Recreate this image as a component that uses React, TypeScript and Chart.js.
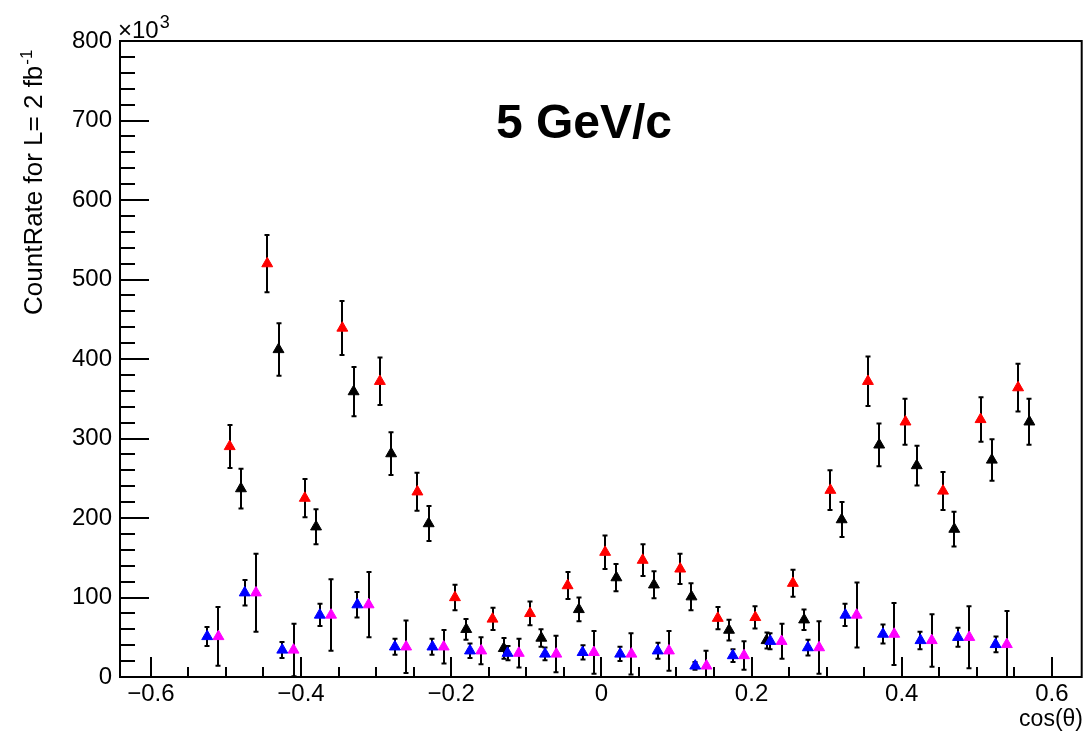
import React, { useEffect, useRef } from "react";
import { Chart, registerables } from "chart.js";

Chart.register(...registerables);

const FONT = "'Liberation Sans', Arial, Helvetica, sans-serif";

// cos(theta) positions of each series
const redX = [-0.495, -0.445, -0.395, -0.345, -0.295, -0.245, -0.195, -0.145, -0.095, -0.045, 0.005, 0.055, 0.105, 0.155, 0.205, 0.255, 0.305, 0.355, 0.405, 0.455, 0.505, 0.555];
const blackX = [-0.48, -0.43, -0.38, -0.33, -0.28, -0.23, -0.18, -0.13, -0.08, -0.03, 0.02, 0.07, 0.12, 0.17, 0.22, 0.27, 0.32, 0.37, 0.42, 0.47, 0.52, 0.57];
const blueX = [-0.525, -0.475, -0.425, -0.375, -0.325, -0.275, -0.225, -0.175, -0.125, -0.075, -0.025, 0.025, 0.075, 0.125, 0.175, 0.225, 0.275, 0.325, 0.375, 0.425, 0.475, 0.525];
const magentaX = [-0.51, -0.46, -0.41, -0.36, -0.31, -0.26, -0.21, -0.16, -0.11, -0.06, -0.01, 0.04, 0.09, 0.14, 0.19, 0.24, 0.29, 0.34, 0.39, 0.44, 0.49, 0.54];

// count rates (x10^3) and their errors
const redY = [290, 520, 225, 439, 372, 233, 100, 73, 80, 115, 157, 147, 136, 74, 75, 118, 235, 372, 321, 234, 324, 364];
const redErr = [27, 36, 24, 34, 30, 24, 16, 14, 15, 17, 21, 20, 19, 14, 14, 17, 25, 31, 29, 24, 28, 30];
const blackY = [237, 412, 189, 359, 281, 193, 60, 36, 49, 85, 125, 116, 101, 59, 46, 72, 198, 292, 266, 186, 273, 321];
const blackErr = [25, 33, 22, 31, 27, 22, 13, 13, 11, 15, 17, 17, 17, 13, 10, 13, 22, 27, 25, 22, 26, 29];
const blueY = [51, 106, 34, 78, 91, 38, 38, 33, 30, 29, 31, 29, 33, 14, 27, 45, 37, 78, 54, 46, 50, 41];
const blueErr = [12, 16, 10, 14, 16, 10, 10, 9, 9, 8, 9, 9, 10, 5, 8, 10, 10, 14, 12, 11, 12, 10];
const magentaY = [51, 106, 34, 78, 91, 38, 38, 33, 30, 29, 31, 29, 33, 14, 27, 45, 37, 78, 54, 46, 50, 41];
const magentaErr = [37, 49, 33, 45, 41, 33, 21, 17, 18, 23, 27, 26, 25, 19, 18, 22, 33, 41, 39, 33, 39, 42];

// axis ticks
const xTicks = [-0.6, -0.4, -0.2, 0, 0.2, 0.4, 0.6];
const yTicks = [0, 100, 200, 300, 400, 500, 600, 700, 800];
const X_MIN = -0.6411;
const X_MAX = 0.6397;
const Y_MIN = 0;
const Y_MAX = 800;

const TITLE = "5 GeV/c";
const X_TITLE = "cos(\u03b8)";
const Y_TITLE = "CountRate for L= 2 fb";
const Y_TITLE_SUP = "-1";

function points(xs: number[], ys: number[], errs: number[]) {
  return xs.map((x, i) => ({ x, y: ys[i], err: errs[i] }));
}

function fmtX(v: number) {
  if (Math.abs(v) < 1e-9) return "0";
  const s = Math.abs(v).toFixed(1);
  return v < 0 ? "\u2212" + s : s;
}

// vertical error bars with short end caps, drawn under the markers
const errorBarPlugin = {
  id: "errorBars",
  beforeDatasetsDraw(chart: any) {
    const { ctx, chartArea, scales } = chart;
    const xs = scales.x;
    const ys = scales.y;
    ctx.save();
    ctx.beginPath();
    ctx.rect(chartArea.left, chartArea.top, chartArea.right - chartArea.left, chartArea.bottom - chartArea.top);
    ctx.clip();
    ctx.strokeStyle = "#000";
    ctx.lineWidth = 2;
    chart.data.datasets.forEach((ds: any) => {
      ds.data.forEach((p: any) => {
        const px = Math.round(xs.getPixelForValue(p.x));
        const lo = ys.getPixelForValue(p.y - p.err);
        const hi = ys.getPixelForValue(p.y + p.err);
        ctx.beginPath();
        ctx.moveTo(px, lo);
        ctx.lineTo(px, hi);
        ctx.moveTo(px - 2.5, lo);
        ctx.lineTo(px + 2.5, lo);
        ctx.moveTo(px - 2.5, hi);
        ctx.lineTo(px + 2.5, hi);
        ctx.stroke();
      });
    });
    ctx.restore();
  },
};

// frame, inward tick marks and free text
const framePlugin = {
  id: "frame",
  afterDraw(chart: any) {
    const { ctx, chartArea, scales } = chart;
    const xs = scales.x;
    const ys = scales.y;
    const { left, right, top, bottom } = chartArea;
    ctx.save();
    ctx.strokeStyle = "#000";
    ctx.lineWidth = 2;
    ctx.strokeRect(left, top, right - left, bottom - top);

    // y ticks: major every 100, minor every 20
    ctx.beginPath();
    for (let v = Y_MIN; v <= Y_MAX + 1e-6; v += 20) {
      const py = Math.round(ys.getPixelForValue(v));
      const len = Math.abs(v % 100) < 1e-6 ? 29 : 15;
      ctx.moveTo(left, py);
      ctx.lineTo(left + len, py);
    }
    // x ticks: major every 0.2, minor every 0.05
    for (let i = -12; i <= 12; i++) {
      const v = i * 0.05;
      if (v < X_MIN || v > X_MAX) continue;
      const px = Math.round(xs.getPixelForValue(v));
      const len = i % 4 === 0 ? 20 : 10;
      ctx.moveTo(px, bottom);
      ctx.lineTo(px, bottom - len);
    }
    ctx.stroke();

    ctx.fillStyle = "#000";
    // title
    ctx.font = `bold 48px ${FONT}`;
    ctx.textAlign = "center";
    ctx.textBaseline = "alphabetic";
    ctx.fillText(TITLE, 584, 138);

    // exponent marker
    ctx.textAlign = "left";
    ctx.font = `24px ${FONT}`;
    ctx.fillText("\u00d710", 118, 38);
    const w10 = ctx.measureText("\u00d710").width;
    ctx.font = `18px ${FONT}`;
    ctx.fillText("3", 118 + w10 + 1, 28);

    // x title
    ctx.font = `23px ${FONT}`;
    ctx.textAlign = "right";
    ctx.fillText(X_TITLE, 1083, 726);

    // y title (rotated)
    ctx.translate(42, 315);
    ctx.rotate(-Math.PI / 2);
    ctx.textAlign = "left";
    ctx.font = `26px ${FONT}`;
    ctx.fillText(Y_TITLE, 0, 0);
    const wt = ctx.measureText(Y_TITLE).width;
    ctx.font = `17px ${FONT}`;
    ctx.fillText(Y_TITLE_SUP, wt + 1, -10);
    ctx.restore();
  },
};

export default function App() {
  const canvasRef = useRef<HTMLCanvasElement | null>(null);

  useEffect(() => {
    const canvas = canvasRef.current;
    if (!canvas) return;
    const marker = { pointStyle: "triangle", pointRadius: 6.3, pointHoverRadius: 6.3, pointBorderWidth: 1, showLine: false };
    const chart = new Chart(canvas, {
      type: "scatter",
      data: {
        datasets: [
          { label: "blue", data: points(blueX, blueY, blueErr), backgroundColor: "#0000ff", borderColor: "#0000ff", ...marker },
          { label: "magenta", data: points(magentaX, magentaY, magentaErr), backgroundColor: "#ff00ff", borderColor: "#ff00ff", ...marker },
          { label: "red", data: points(redX, redY, redErr), backgroundColor: "#ff0000", borderColor: "#ff0000", ...marker },
          { label: "black", data: points(blackX, blackY, blackErr), backgroundColor: "#000000", borderColor: "#000000", ...marker },
        ] as any,
      },
      options: {
        animation: false,
        responsive: false,
        devicePixelRatio: 1,
        layout: { padding: { left: 0, top: 41, right: 2, bottom: 0 } },
        plugins: { legend: { display: false }, tooltip: { enabled: false }, title: { display: false } },
        scales: {
          x: {
            type: "linear",
            min: X_MIN,
            max: X_MAX,
            afterBuildTicks: (s: any) => {
              s.ticks = xTicks.map((v) => ({ value: v }));
            },
            afterFit: (s: any) => {
              s.height = 56;
            },
            grid: { display: false, drawTicks: false },
            border: { display: false },
            ticks: {
              callback: (v: any) => fmtX(Number(v)),
              font: { family: FONT, size: 24 },
              color: "#000",
              padding: 3,
              maxRotation: 0,
              autoSkip: false,
            },
          },
          y: {
            type: "linear",
            min: Y_MIN,
            max: Y_MAX,
            afterBuildTicks: (s: any) => {
              s.ticks = yTicks.map((v) => ({ value: v }));
            },
            afterFit: (s: any) => {
              s.width = 120;
            },
            grid: { display: false, drawTicks: false },
            border: { display: false },
            ticks: {
              font: { family: FONT, size: 24 },
              color: "#000",
              padding: 8,
              autoSkip: false,
            },
          },
        },
      } as any,
      plugins: [errorBarPlugin, framePlugin],
    });
    return () => chart.destroy();
  }, []);

  return (
    <div style={{ position: "absolute", left: 0, top: 0, width: 1089, height: 733, background: "#fff" }}>
      <canvas ref={canvasRef} width={1089} height={733} style={{ display: "block" }} />
    </div>
  );
}
